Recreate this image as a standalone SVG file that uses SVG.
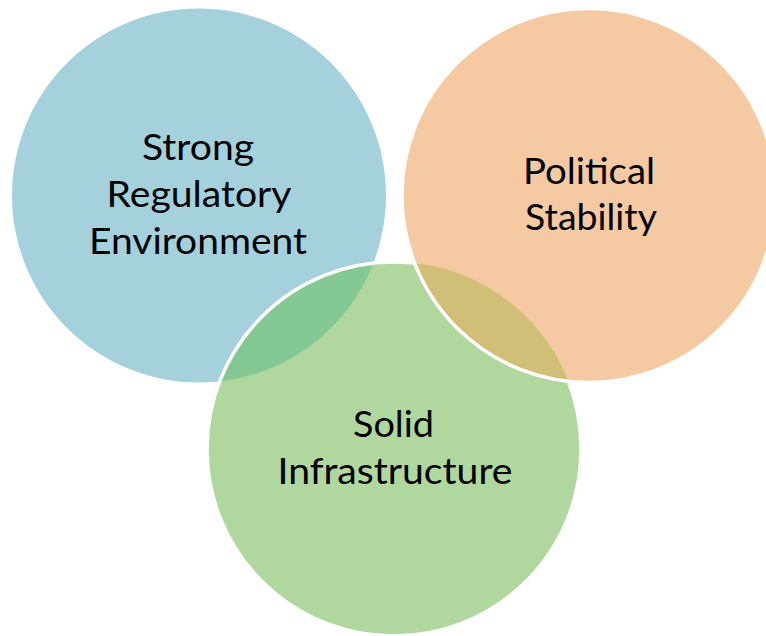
<svg xmlns="http://www.w3.org/2000/svg" width="766" height="636" viewBox="0 0 766 636">
  <style>
    .lbl { font-family: "Lato", "Liberation Sans", sans-serif; font-size: 36px; fill: #000000; text-anchor: middle; }
    .edge { fill: none; stroke: #FFFFFF; stroke-width: 3.5; }
  </style>
  <defs>
    <clipPath id="clipBlue"><circle cx="199" cy="195.5" r="187"/></clipPath>
    <clipPath id="clipOrange"><circle cx="589" cy="195.5" r="187"/></clipPath>
  </defs>
  <rect width="766" height="636" fill="#FFFFFF"/>

  <g id="node-regulatory">
    <circle cx="199" cy="195.5" r="187" fill="#A5D1DC"/>
  </g>

  <g id="node-infrastructure">
    <circle cx="394" cy="449" r="187" fill="#B0D79E"/>
    <circle cx="394" cy="449" r="187" fill="#84C893" clip-path="url(#clipBlue)"/>
    <circle class="edge" cx="394" cy="449" r="187"/>
  </g>

  <g id="node-political">
    <circle cx="589" cy="195.5" r="187" fill="#F5C9A1"/>
    <circle cx="394" cy="449" r="187" fill="#D1BF78" clip-path="url(#clipOrange)"/>
    <circle class="edge" cx="589" cy="195.5" r="187"/>
  </g>

  <g id="labels">
    <text class="lbl" x="198" y="160" textLength="112" lengthAdjust="spacingAndGlyphs">Strong</text>
    <text class="lbl" x="199" y="207" textLength="185" lengthAdjust="spacingAndGlyphs">Regulatory</text>
    <text class="lbl" x="198" y="254" textLength="218" lengthAdjust="spacingAndGlyphs">Environment</text>
    <text class="lbl" x="589" y="183.5" textLength="132" lengthAdjust="spacingAndGlyphs">Political</text>
    <text class="lbl" x="591" y="230" textLength="132" lengthAdjust="spacingAndGlyphs">Stability</text>
    <text class="lbl" x="393.5" y="437" textLength="81" lengthAdjust="spacingAndGlyphs">Solid</text>
    <text class="lbl" x="395" y="483.5" textLength="235" lengthAdjust="spacingAndGlyphs">Infrastructure</text>
  </g>
</svg>
